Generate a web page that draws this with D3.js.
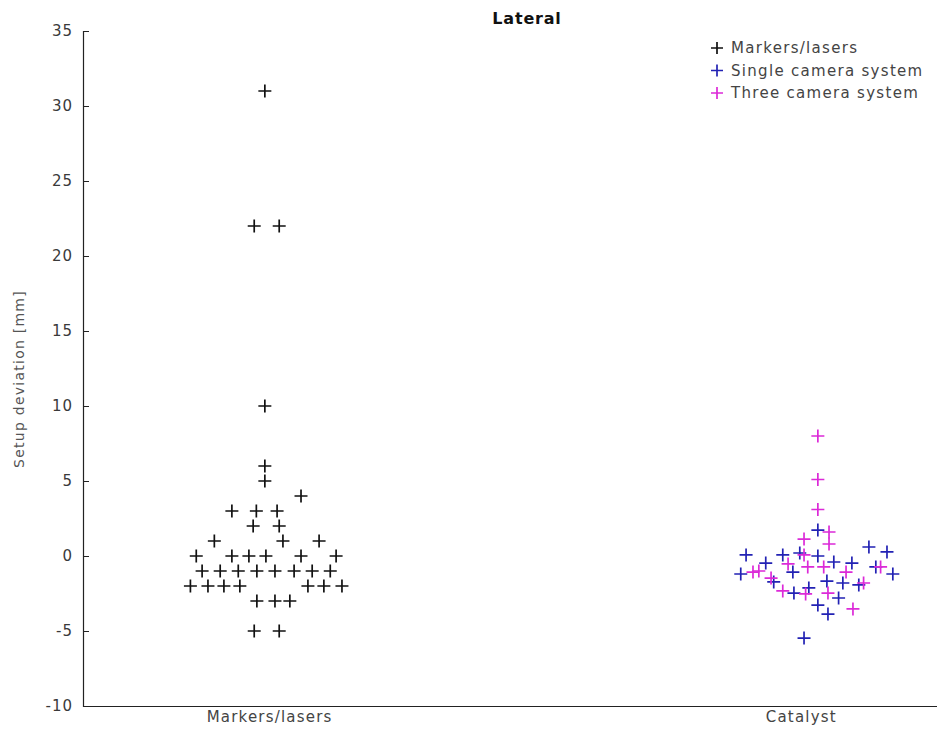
<!DOCTYPE html>
<html>
<head>
<meta charset="utf-8">
<script src="https://cdn.jsdelivr.net/npm/d3@7/dist/d3.min.js"></script>
<style>
  body { margin: 0; background: #fff; }
  svg { display: block; font-family: "DejaVu Sans", "Liberation Sans", sans-serif; }
</style>
</head>
<body>
<svg id="chart" width="937" height="733"></svg>
<script>
  /* categories sit at x = 1 and x = 2, points spread sideways around them */
  var categories = ['Markers/lasers', 'Catalyst'];
  var yTicks = [-10, -5, 0, 5, 10, 15, 20, 25, 30, 35];

  // [x, value]
  var markersLasers = [
    [0.992, 31], [0.972, 22], [1.019, 22], [0.992, 10], [0.992, 6], [0.992, 5],
    [1.060, 4],
    [0.930, 3], [0.976, 3], [1.015, 3],
    [0.970, 2], [1.019, 2],
    [0.897, 1], [1.026, 1], [1.094, 1],
    [0.863, 0], [0.930, 0], [0.962, 0], [0.994, 0], [1.060, 0], [1.126, 0],
    [0.874, -1], [0.908, -1], [0.942, -1], [0.977, -1], [1.011, -1], [1.047, -1], [1.081, -1], [1.115, -1],
    [0.852, -2], [0.885, -2], [0.915, -2], [0.945, -2], [1.073, -2], [1.103, -2], [1.137, -2],
    [0.977, -3], [1.011, -3], [1.039, -3],
    [0.972, -5], [1.019, -5]
  ];

  var singleCamera = [
    [2.032, 1.73], [1.897, 0.07], [1.966, 0.07], [1.998, 0.2], [2.032, 0.0],
    [2.128, 0.6], [2.162, 0.27], [1.934, -0.47], [2.062, -0.4], [2.096, -0.47],
    [1.985, -1.07], [1.887, -1.2], [2.141, -0.73], [2.173, -1.2], [2.049, -1.67],
    [1.949, -1.73], [2.079, -1.8], [2.109, -1.93], [2.015, -2.13], [1.987, -2.47],
    [2.071, -2.8], [2.032, -3.27], [2.051, -3.87], [2.006, -5.47]
  ];

  var threeCamera = [
    [2.032, 8.0], [2.032, 5.1], [2.032, 3.1], [2.053, 1.6], [2.006, 1.13],
    [2.053, 0.8], [2.006, 0.07], [1.976, -0.53], [2.013, -0.73], [2.043, -0.73],
    [1.910, -1.07], [1.921, -1.0], [2.085, -1.07], [1.944, -1.47], [2.118, -1.8],
    [1.966, -2.33], [2.009, -2.53], [2.051, -2.47], [2.098, -3.53], [2.150, -0.73]
  ];

  var series = [
    { name: 'Markers/lasers', color: '#111111', values: markersLasers },
    { name: 'Single camera system', color: '#2222b4', values: singleCamera },
    { name: 'Three camera system', color: '#dc2ad8', values: threeCamera }
  ];

  var plot = { left: 83, top: 31, right: 971, bottom: 706 };

  var svg = d3.select('#chart');

  var x = d3.scaleLinear().domain([0.65, 2.32]).range([plot.left, plot.right]);
  var y = d3.scaleLinear().domain([-10, 35]).range([plot.bottom, plot.top]);

  /* y axis, ticks pointing inwards like matlab */
  var yAxis = d3.axisRight(y).tickValues(yTicks).tickSize(6)
    .tickFormat(function(d) { return String(d); });
  var gY = svg.append('g')
    .attr('transform', 'translate(' + plot.left + ',0)')
    .call(yAxis)
    .attr('font-family', null)
    .attr('font-size', null);
  gY.select('.domain').attr('stroke', '#222').attr('stroke-width', 1.2);
  gY.selectAll('.tick line').attr('stroke', '#222');
  gY.selectAll('.tick text')
    .attr('x', -10)
    .attr('text-anchor', 'end')
    .attr('fill', '#3a3a3a')
    .style('font-size', '15px')
    .style('letter-spacing', '1px');

  /* x axis: just the line and the category names */
  var xAxis = d3.axisBottom(x).tickValues([1, 2]).tickSize(0)
    .tickFormat(function(d) { return categories[d - 1]; });
  var gX = svg.append('g')
    .attr('transform', 'translate(0,' + plot.bottom + ')')
    .call(xAxis)
    .attr('font-family', null)
    .attr('font-size', null);
  gX.select('.domain').attr('stroke', '#222').attr('stroke-width', 1.2);
  gX.selectAll('.tick text')
    .attr('y', 5)
    .attr('fill', '#444')
    .style('font-size', '15px')
    .style('letter-spacing', '1.2px');

  /* labels */
  svg.append('text')
    .attr('transform', 'translate(24,' + 379 + ') rotate(-90)')
    .attr('text-anchor', 'middle')
    .attr('fill', '#555')
    .style('font-size', '14px')
    .style('letter-spacing', '1.25px')
    .text('Setup deviation [mm]');

  svg.append('text')
    .attr('x', (plot.left + plot.right) / 2)
    .attr('y', 24)
    .attr('text-anchor', 'middle')
    .attr('fill', '#111')
    .style('font-size', '16px')
    .style('font-weight', 'bold')
    .style('letter-spacing', '0.8px')
    .text('Lateral');

  /* plus markers */
  var plus = function(sel, size) {
    sel.append('path')
      .attr('d', 'M' + (-size) + ',0H' + size + 'M0,' + (-size) + 'V' + size)
      .attr('fill', 'none')
      .attr('stroke-width', 1.7);
  };

  series.forEach(function(s) {
    var g = svg.append('g').attr('stroke', s.color);
    g.selectAll('g.point')
      .data(s.values)
      .enter().append('g')
        .attr('class', 'point')
        .attr('transform', function(d) { return 'translate(' + x(d[0]) + ',' + y(d[1]) + ')'; })
        .call(plus, 6.5);
  });

  /* legend */
  var legend = svg.append('g').attr('transform', 'translate(717,48)');
  var item = legend.selectAll('g')
    .data(series)
    .enter().append('g')
      .attr('transform', function(d, i) { return 'translate(0,' + (i * 22.5) + ')'; });
  item.append('g')
    .attr('stroke', function(d) { return d.color; })
    .call(plus, 6);
  item.append('text')
    .attr('x', 14)
    .attr('dy', '0.35em')
    .attr('fill', '#444')
    .style('font-size', '15px')
    .style('letter-spacing', '1.3px')
    .text(function(d) { return d.name; });
</script>
</body>
</html>
